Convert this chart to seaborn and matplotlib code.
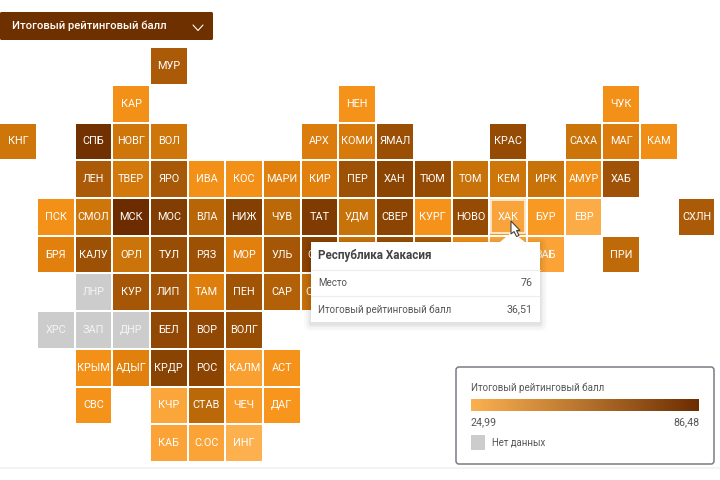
import numpy as np
import pandas as pd
import seaborn as sns
import matplotlib.pyplot as plt
from matplotlib.colors import LinearSegmentedColormap, ListedColormap
from matplotlib.patches import FancyBboxPatch, Polygon, Rectangle

# ─── Data ───────────────────────────────────────────────────────────────────────

# empty codes are tiles fully hidden under the tooltip
regions = [
    "МУР",
    "КАР", "НЕН", "ЧУК",
    "КНГ", "СПБ", "НОВГ", "ВОЛ", "АРХ", "КОМИ", "ЯМАЛ", "КРАС", "САХА", "МАГ", "КАМ",
    "ЛЕН", "ТВЕР", "ЯРО", "ИВА", "КОС", "МАРИ", "КИР", "ПЕР", "ХАН", "ТЮМ", "ТОМ", "КЕМ", "ИРК", "АМУР", "ХАБ",
    "ПСК", "СМОЛ", "МСК", "МОС", "ВЛА", "НИЖ", "ЧУВ", "ТАТ", "УДМ", "СВЕР", "КУРГ", "НОВО", "ХАК", "БУР", "ЕВР", "СХЛН",
    "БРЯ", "КАЛУ", "ОРЛ", "ТУЛ", "РЯЗ", "МОР", "УЛЬ", "САМ", "", "", "", "", "", "ЗАБ", "ПРИ",
    "КУР", "ЛИП", "ТАМ", "ПЕН", "САР", "ОРЕН",
    "БЕЛ", "ВОР", "ВОЛГ",
    "КРЫМ", "АДЫГ", "КРДР", "РОС", "КАЛМ", "АСТ",
    "СВС", "КЧР", "СТАВ", "ЧЕЧ", "ДАГ",
    "КАБ", "С.ОС", "ИНГ",
]
grid_rows = [0] + [1] * 3 + [2] * 11 + [3] * 15 + [4] * 16 + [5] * 15 + [6] * 6 + [7] * 3 + [8] * 6 + [9] * 5 + [10] * 3
grid_cols = [
    4,
    3, 9, 16,
    0, 2, 3, 4, 8, 9, 10, 13, 15, 16, 17,
    2, 3, 4, 5, 6, 7, 8, 9, 10, 11, 12, 13, 14, 15, 16,
    1, 2, 3, 4, 5, 6, 7, 8, 9, 10, 11, 12, 13, 14, 15, 18,
    1, 2, 3, 4, 5, 6, 7, 8, 9, 10, 11, 12, 13, 14, 16,
    3, 4, 5, 6, 7, 8,
    4, 5, 6,
    2, 3, 4, 5, 6, 7,
    2, 4, 5, 6, 7,
    4, 5, 6,
]
scores = [
    62,
    39, 38, 39,
    51, 84, 51, 51, 48, 49, 68, 70, 52, 48, 40,
    62, 50, 63, 39, 39, 46, 46, 67, 74, 70, 53, 51, 53, 41, 66,
    39, 51, 86, 78, 58, 77, 57, 79, 53, 74, 38, 70, 36.51, 36, 29, 62,
    46, 67, 52, 69, 67, 46, 64, 74, 52, 68, 62, 40, 32, 33, 56,
    64, 66, 47, 65, 60, 54,
    72, 72, 69,
    39, 46, 75, 74, 34, 38,
    38, 32, 57, 35, 37,
    33, 33, 27,
]

no_data_regions = ["ЛНР", "ХРС", "ЗАП", "ДНР"]
no_data_rows = [6, 7, 7, 7]
no_data_cols = [2, 1, 2, 3]

score_min = 24.99
score_max = 86.48
score_labels = ["24,99", "86,48"]

tooltip_title = "Республика Хакасия"
tooltip_rows = [("Место", "76"), ("Итоговый рейтинговый балл", "36,51")]
metric_name = "Итоговый рейтинговый балл"
no_data_label = "Нет данных"

color_stops = [
    (0.00, "#fdb455"), (0.12, "#fba53a"), (0.20, "#f7941a"), (0.35, "#e07f0c"),
    (0.45, "#c9730a"), (0.65, "#a25406"), (0.85, "#843f02"), (1.00, "#6b2c00"),
]
legend_stops = ["#fbb04f", "#b5722c", "#6b2c00"]

# ─── Helpers ────────────────────────────────────────────────────────────────────

N_ROWS, N_COLS = 11, 19


def to_grid(rows, cols, values):
    """Pivot tile positions into a full row/col table, empty tiles stay NaN."""
    df = pd.DataFrame({"row": rows, "col": cols, "value": values})
    table = df.pivot(index="row", columns="col", values="value")
    return table.reindex(index=range(N_ROWS), columns=range(N_COLS))


# ─── Figure ─────────────────────────────────────────────────────────────────────

sns.set_theme(style="white")
plt.rcParams["font.family"] = ["Roboto", "DejaVu Sans"]

W, H = 720, 480
PITCH = 37.7
fig = plt.figure(figsize=(7.2, 4.8), dpi=100, facecolor="white")

map_ax = fig.add_axes([-0.85 / W, 1 - (47.2 + N_ROWS * PITCH) / H, N_COLS * PITCH / W, N_ROWS * PITCH / H])
bar_ax = fig.add_axes([470.7 / W, 1 - 411 / H, 228.5 / W, 12 / H], zorder=5)

score_table = to_grid(grid_rows, grid_cols, scores)
label_table = to_grid(grid_rows, grid_cols, regions).fillna("")
cmap = LinearSegmentedColormap.from_list("score", color_stops)

tile_kws = dict(xticklabels=False, yticklabels=False, linewidths=1.25, linecolor="white", fmt="", cbar=False)

sns.heatmap(
    score_table, ax=map_ax, cmap=cmap, vmin=score_min, vmax=score_max,
    annot=label_table.values, annot_kws={"fontsize": 7.8, "color": "white"},
    **tile_kws,
)

grey_table = to_grid(no_data_rows, no_data_cols, [1] * len(no_data_rows))
grey_labels = to_grid(no_data_rows, no_data_cols, no_data_regions).fillna("")
sns.heatmap(
    grey_table, ax=map_ax, cmap=ListedColormap(["#cccccc"]),
    annot=grey_labels.values, annot_kws={"fontsize": 7.8, "color": "#f4f4f4"},
    **tile_kws,
)
map_ax.set_xlabel("")
map_ax.set_ylabel("")

# Legend gradient bar
sns.heatmap(
    np.linspace(score_min, score_max, 256).reshape(1, -1), ax=bar_ax,
    cmap=LinearSegmentedColormap.from_list("legend", legend_stops),
    xticklabels=False, yticklabels=False, cbar=False,
)

# ─── Interface layer, in pixel coordinates ──────────────────────────────────────

ui = fig.add_axes([0, 0, 1, 1], zorder=3)
ui.set_xlim(0, W)
ui.set_ylim(H, 0)
ui.axis("off")
ui.patch.set_alpha(0)


def round_box(x0, y0, x1, y1, radius=1.5, **kwargs):
    box = FancyBboxPatch(
        (x0 + radius, y0 + radius), x1 - x0 - 2 * radius, y1 - y0 - 2 * radius,
        boxstyle=f"round,pad={radius},rounding_size={radius}", **kwargs,
    )
    ui.add_patch(box)


# Dropdown
round_box(0, 12, 213, 40, facecolor="#6f3000", edgecolor="none")
ui.text(12, 25.5, metric_name, color="white", fontsize=8.1, fontweight="medium", va="center")
ui.plot([193, 198, 203], [25, 30.5, 25], color="white", lw=0.8)

# Hovered tile
ui.add_patch(Rectangle((491.5, 200), 33, 32.5, facecolor="white", alpha=0.12, edgecolor="none"))
ui.add_patch(Rectangle((491, 199.5), 34, 33.5, facecolor="none", edgecolor="#fff3df", lw=1.2))

# Tooltip with soft shadow
for grow, alpha in [(7, 0.02), (5, 0.025), (3, 0.03), (1.5, 0.04)]:
    round_box(311 - grow, 242 - grow + 2, 540 + grow, 322 + grow + 2, radius=grow,
              facecolor="black", edgecolor="none", alpha=alpha)
ui.add_patch(Rectangle((311, 242), 229, 80, facecolor="white", edgecolor="none"))
ui.add_patch(Polygon([(500, 242), (512, 232), (525, 242)], facecolor="white", edgecolor="none"))
ui.text(318, 256, tooltip_title, color="#444444", fontsize=8.4, fontweight="bold", va="center")
for line_y in [269.5, 295.5]:
    ui.plot([311, 540], [line_y, line_y], color="#ececec", lw=0.8)
for (name, value), text_y in zip(tooltip_rows, [283, 309.5]):
    ui.text(318, text_y, name, color="#555555", fontsize=7.05, va="center")
    ui.text(532.5, text_y, value, color="#555555", fontsize=7.7, va="center", ha="right")

# Cursor
ui.add_patch(Polygon(
    [(511, 221), (511, 234), (514, 231.5), (516.5, 236.5), (519, 235.5), (516.5, 230.5), (520, 230.5)],
    facecolor="white", edgecolor="#444444", lw=0.8, zorder=6,
))

# Legend
round_box(456, 367, 714, 464, radius=3, facecolor="white", edgecolor="#7b7b85", lw=1.1)
ui.text(470.7, 388, metric_name, color="#555555", fontsize=7.0, va="center")
ui.text(470.7, 422, score_labels[0], color="#555555", fontsize=7.7, va="center")
ui.text(699.2, 422, score_labels[1], color="#555555", fontsize=7.7, va="center", ha="right")
ui.add_patch(Rectangle((470.7, 435), 14, 15, facecolor="#cccccc", edgecolor="none"))
ui.text(492, 442.5, no_data_label, color="#555555", fontsize=6.9, va="center")

# Faint footer rule
ui.plot([0, W], [468, 468], color="#f2f2f2", lw=1.2)

fig.savefig("out.png", dpi=100)
plt.close(fig)
